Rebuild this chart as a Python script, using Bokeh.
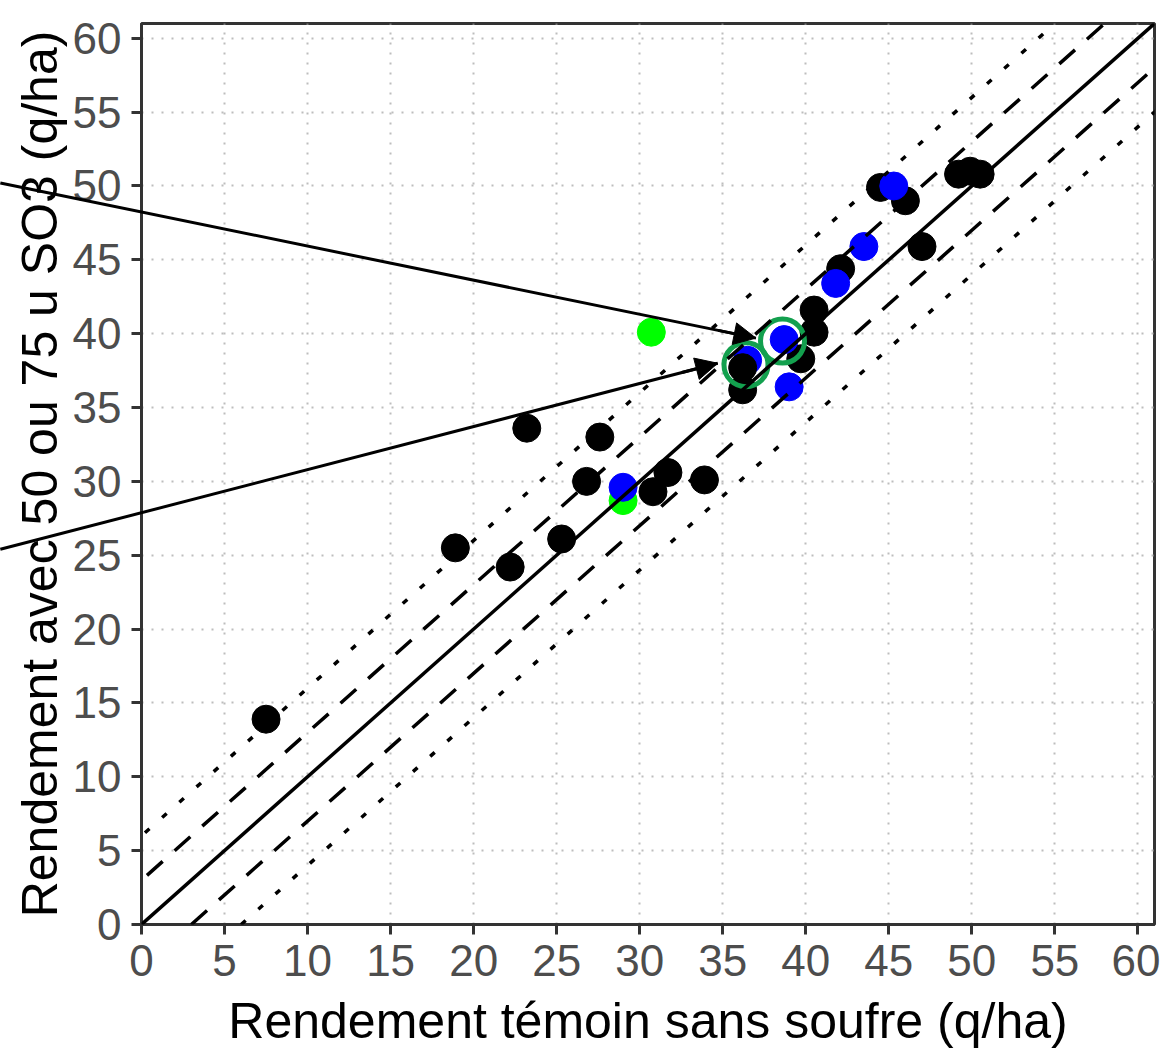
from bokeh.plotting import figure
from bokeh.models import Range1d, FixedTicker, Slope, Arrow, NormalHead, ColumnDataSource
from bokeh.embed import file_html
from bokeh.resources import INLINE

# ---- data ----
groupe = ["vert", "vert",
          "noir", "noir", "noir", "noir", "noir", "noir", "noir", "noir", "noir", "noir",
          "noir", "noir", "noir", "noir", "noir", "noir", "noir", "noir", "noir", "noir", "noir",
          "bleu", "bleu", "bleu", "bleu", "bleu", "bleu", "bleu",
          "noir"]
temoin = [30.7, 29.0,
          7.5, 18.9, 22.2, 23.2, 25.3, 26.8, 27.6, 30.8, 31.7, 33.9,
          36.2, 39.7, 40.5, 40.5, 42.1, 44.5, 46.0, 47.0, 49.2, 49.9, 50.5,
          29.0, 36.5, 38.7, 39.0, 41.8, 43.5, 45.3,
          36.2]
avec_so3 = [40.1, 28.7,
            13.9, 25.5, 24.2, 33.6, 26.1, 30.0, 33.0, 29.3, 30.6, 30.1,
            36.2, 38.3, 40.1, 41.6, 44.4, 49.9, 49.0, 45.9, 50.8, 51.0, 50.8,
            29.6, 38.2, 39.6, 36.4, 43.4, 45.9, 50.0,
            37.7]
couleurs = {"noir": "#000000", "bleu": "#0000FF", "vert": "#00FF00"}

# reference lines y = x + ecart
ecarts_pleins = [0]
ecarts_tirets = [3, -3]
ecarts_points = [6, -6]

# circled points
cercle_x = [36.4, 38.6]
cercle_y = [37.9, 39.5]

# arrows (start outside the plot, tip at the circled points)
fleche_x0 = [-8.5, -8.5]
fleche_y0 = [50.2, 25.4]
fleche_x1 = [37.0, 34.7]
fleche_y1 = [39.7, 38.0]

graduations = list(range(0, 61, 5))

# ---- figure ----
p = figure(frame_width=1013, frame_height=901,
           min_border_left=141, min_border_top=23, min_border_right=6, min_border_bottom=10,
           x_range=Range1d(0, 61), y_range=Range1d(0, 61),
           output_backend="svg", toolbar_location=None, background_fill_color="white")

p.outline_line_color = "#333333"
p.outline_line_width = 3

for ax in (p.xaxis[0], p.yaxis[0]):
    ax.ticker = FixedTicker(ticks=graduations)
    ax.axis_line_color = "#333333"
    ax.axis_line_width = 3
    ax.major_tick_line_color = "#333333"
    ax.major_tick_line_width = 3
    ax.major_tick_out = 10
    ax.major_tick_in = 0
    ax.minor_tick_line_color = None
    ax.major_label_text_font = "Liberation Sans"
    ax.major_label_text_font_size = "44px"
    ax.major_label_text_color = "#4D4D4D"
    ax.axis_label_text_font = "Liberation Sans"
    ax.axis_label_text_font_size = "50px"
    ax.axis_label_text_font_style = "normal"
    ax.axis_label_text_color = "#000000"

p.xaxis[0].axis_label = "Rendement témoin sans soufre (q/ha)"
p.yaxis[0].axis_label = "Rendement avec 50 ou 75 u SO3 (q/ha)"
p.xaxis[0].major_label_standoff = 10
p.xaxis[0].axis_label_standoff = 14
p.yaxis[0].major_label_standoff = 10
p.yaxis[0].axis_label_standoff = 2

for g in (p.xgrid[0], p.ygrid[0]):
    g.ticker = FixedTicker(ticks=graduations)
    g.grid_line_color = "#BDBDBD"
    g.grid_line_width = 2
    g.grid_line_dash = "2 8"

for e in ecarts_pleins:
    p.add_layout(Slope(gradient=1, y_intercept=e, line_color="black", line_width=3.5))
for e in ecarts_tirets:
    p.add_layout(Slope(gradient=1, y_intercept=e, line_color="black", line_width=3.5, line_dash="21 16"))
for e in ecarts_points:
    p.add_layout(Slope(gradient=1, y_intercept=e, line_color="black", line_width=3.5, line_dash="6 17"))

src = ColumnDataSource(dict(x=temoin, y=avec_so3, c=[couleurs[g] for g in groupe]))
p.scatter("x", "y", source=src, size=28, marker="circle", fill_color="c", line_color="c")

p.scatter(cercle_x, cercle_y, size=44, marker="circle", fill_alpha=0,
          line_color="#13A04E", line_width=5)

# arrow shafts as a glyph drawn at overlay level (so the part over the axis area shows)
p.segment(x0=fleche_x0, y0=fleche_y0, x1=fleche_x1, y1=fleche_y1,
          line_color="black", line_width=3, level="overlay")
# arrow heads
for xs, ys, xe, ye in zip(fleche_x0, fleche_y0, fleche_x1, fleche_y1):
    f = 0.05
    p.add_layout(Arrow(x_start=xe - f * (xe - xs), y_start=ye - f * (ye - ys), x_end=xe, y_end=ye,
                       line_color="black", line_width=3,
                       end=NormalHead(size=22, fill_color="black", line_color="black")))

open("out.html", "w").write(file_html(p, INLINE))
